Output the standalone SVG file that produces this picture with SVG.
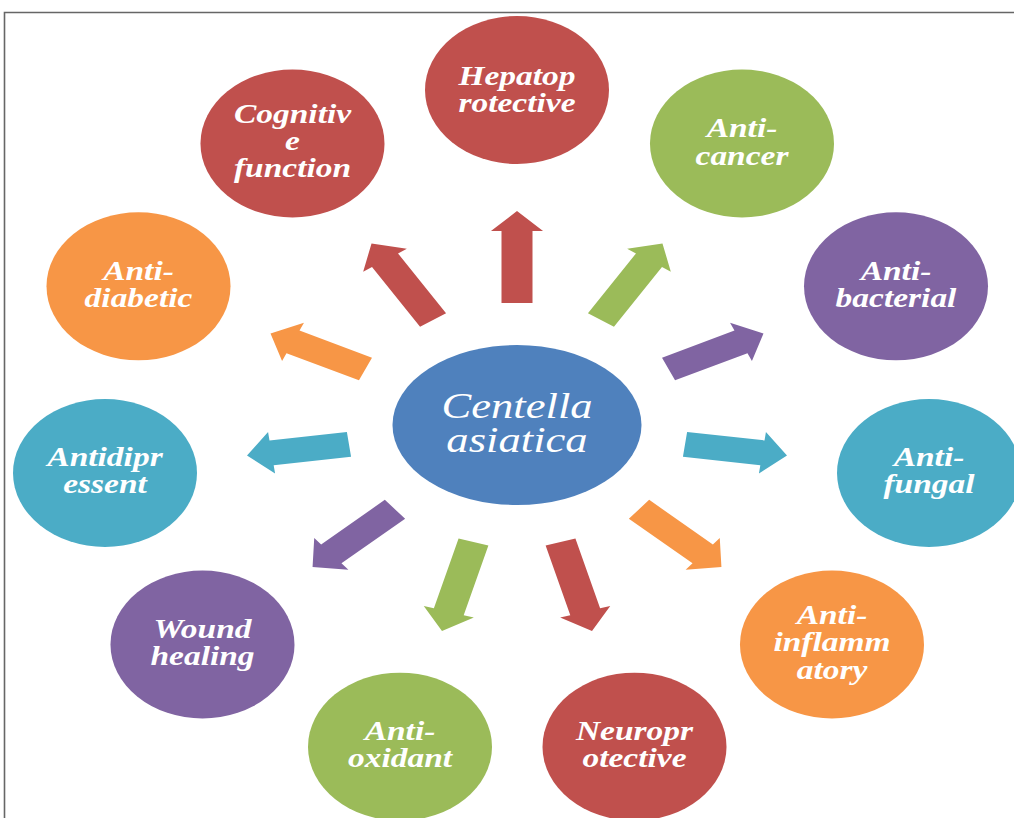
<svg xmlns="http://www.w3.org/2000/svg" width="1014" height="818" viewBox="0 0 1014 818">
<style>
.t{font-family:"Liberation Serif","Times New Roman",serif;font-weight:bold;font-style:italic;font-size:27px;fill:#fff;text-anchor:middle}
.c{font-family:"Liberation Serif","Times New Roman",serif;font-style:italic;font-size:36px;fill:#fff;text-anchor:middle}
.red{fill:#C0504D}.grn{fill:#9BBB59}.pur{fill:#8064A2}.aqu{fill:#4BACC6}.org{fill:#F79646}.blu{fill:#4F81BD}
</style>
<rect width="1014" height="818" fill="#fff"/>
<path d="M4.5 818 V12.5 H1014" fill="none" stroke="#666" stroke-width="1.6"/>

<g id="connectors" transform="translate(517 0) scale(1.24 1) translate(-517 0)">
  <polygon class="red" transform="translate(517 303) rotate(-90)" points="0,-12.5 72,-12.5 72,-21 92,0 72,21 72,12.5 0,12.5"/>
  <polygon class="red" transform="translate(449.3 320) rotate(-122.96)" points="0,-12.5 71.2,-12.5 71.2,-21 91.2,0 71.2,21 71.2,12.5 0,12.5"/>
  <polygon class="grn" transform="translate(584.7 320) rotate(-57.04)" points="0,-12.5 71.2,-12.5 71.2,-21 91.2,0 71.2,21 71.2,12.5 0,12.5"/>
  <polygon class="org" transform="translate(394.8 369) rotate(-155.14)" points="0,-12.5 64.4,-12.5 64.4,-21 84.4,0 64.4,21 64.4,12.5 0,12.5"/>
  <polygon class="pur" transform="translate(639.2 369) rotate(-24.86)" points="0,-12.5 64.4,-12.5 64.4,-21 84.4,0 64.4,21 64.4,12.5 0,12.5"/>
  <polygon class="aqu" transform="translate(381.5 444.3) rotate(172.24)" points="0,-12.5 63,-12.5 63,-21 83,0 63,21 63,12.5 0,12.5"/>
  <polygon class="aqu" transform="translate(652.5 444.3) rotate(7.76)" points="0,-12.5 63,-12.5 63,-21 83,0 63,21 63,12.5 0,12.5"/>
  <polygon class="pur" transform="translate(418.6 509.3) rotate(139.05)" points="0,-12.5 68,-12.5 68,-21 88,0 68,21 68,12.5 0,12.5"/>
  <polygon class="org" transform="translate(615.4 509.3) rotate(40.95)" points="0,-12.5 68,-12.5 68,-21 88,0 68,21 68,12.5 0,12.5"/>
  <polygon class="grn" transform="translate(481.9 542) rotate(105.93)" points="0,-12.5 72.5,-12.5 72.5,-21 92.5,0 72.5,21 72.5,12.5 0,12.5"/>
  <polygon class="red" transform="translate(552.1 542) rotate(74.07)" points="0,-12.5 72.5,-12.5 72.5,-21 92.5,0 72.5,21 72.5,12.5 0,12.5"/>
</g>

<g id="center">
  <ellipse class="blu" cx="517" cy="425" rx="124.5" ry="80"/>
  <text class="c" transform="translate(517 0) scale(1.24 1)" x="0" y="418">Centella</text>
  <text class="c" transform="translate(517 0) scale(1.24 1)" x="0" y="452">asiatica</text>
</g>

<g id="hepatoprotective">
  <ellipse class="red" cx="517" cy="90" rx="92" ry="74"/>
  <text class="t" transform="translate(517 0) scale(1.24 1)" x="0" y="85">Hepatop</text>
  <text class="t" transform="translate(517 0) scale(1.24 1)" x="0" y="112">rotective</text>
</g>

<g id="cognitive">
  <ellipse class="red" cx="292.5" cy="143.5" rx="92" ry="74"/>
  <text class="t" transform="translate(292.5 0) scale(1.24 1)" x="0" y="123">Cognitiv</text>
  <text class="t" transform="translate(292.5 0) scale(1.24 1)" x="0" y="150">e</text>
  <text class="t" transform="translate(292.5 0) scale(1.24 1)" x="0" y="177">function</text>
</g>

<g id="anticancer">
  <ellipse class="grn" cx="742" cy="143.5" rx="92" ry="74"/>
  <text class="t" transform="translate(742 0) scale(1.24 1)" x="0" y="137">Anti-</text>
  <text class="t" transform="translate(742 0) scale(1.24 1)" x="0" y="165">cancer</text>
</g>

<g id="antidiabetic">
  <ellipse class="org" cx="138.5" cy="286.3" rx="92" ry="74"/>
  <text class="t" transform="translate(138.5 0) scale(1.24 1)" x="0" y="280">Anti-</text>
  <text class="t" transform="translate(138.5 0) scale(1.24 1)" x="0" y="307">diabetic</text>
</g>

<g id="antibacterial">
  <ellipse class="pur" cx="896" cy="286.3" rx="92" ry="74"/>
  <text class="t" transform="translate(896 0) scale(1.24 1)" x="0" y="280">Anti-</text>
  <text class="t" transform="translate(896 0) scale(1.24 1)" x="0" y="307">bacterial</text>
</g>

<g id="antidipressent">
  <ellipse class="aqu" cx="105" cy="473" rx="92" ry="74"/>
  <text class="t" transform="translate(105 0) scale(1.24 1)" x="0" y="466.5">Antidipr</text>
  <text class="t" transform="translate(105 0) scale(1.24 1)" x="0" y="493.5">essent</text>
</g>

<g id="antifungal">
  <ellipse class="aqu" cx="929" cy="473" rx="92" ry="74"/>
  <text class="t" transform="translate(929 0) scale(1.24 1)" x="0" y="466.5">Anti-</text>
  <text class="t" transform="translate(929 0) scale(1.24 1)" x="0" y="493.5">fungal</text>
</g>

<g id="woundhealing">
  <ellipse class="pur" cx="202.5" cy="644.5" rx="92" ry="74"/>
  <text class="t" transform="translate(202.5 0) scale(1.24 1)" x="0" y="638">Wound</text>
  <text class="t" transform="translate(202.5 0) scale(1.24 1)" x="0" y="665">healing</text>
</g>

<g id="antiinflammatory">
  <ellipse class="org" cx="832" cy="644.5" rx="92" ry="74"/>
  <text class="t" transform="translate(832 0) scale(1.24 1)" x="0" y="624">Anti-</text>
  <text class="t" transform="translate(832 0) scale(1.24 1)" x="0" y="651.5">inflamm</text>
  <text class="t" transform="translate(832 0) scale(1.24 1)" x="0" y="679">atory</text>
</g>

<g id="antioxidant">
  <ellipse class="grn" cx="400" cy="746.7" rx="92" ry="74"/>
  <text class="t" transform="translate(400 0) scale(1.24 1)" x="0" y="740">Anti-</text>
  <text class="t" transform="translate(400 0) scale(1.24 1)" x="0" y="767">oxidant</text>
</g>

<g id="neuroprotective">
  <ellipse class="red" cx="634.5" cy="746.7" rx="92" ry="74"/>
  <text class="t" transform="translate(634.5 0) scale(1.24 1)" x="0" y="740">Neuropr</text>
  <text class="t" transform="translate(634.5 0) scale(1.24 1)" x="0" y="767">otective</text>
</g>
</svg>
